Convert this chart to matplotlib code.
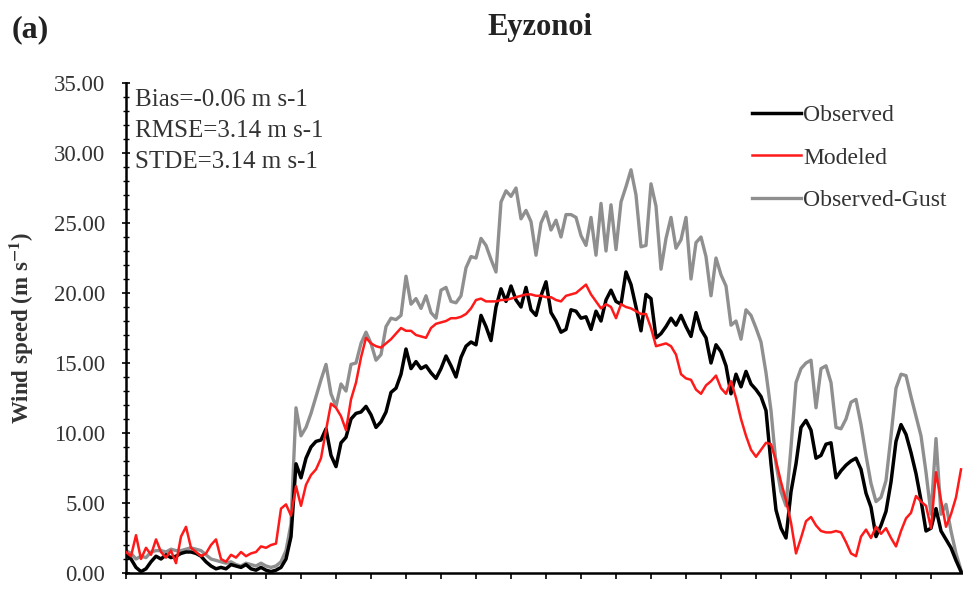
import numpy as np
import matplotlib
matplotlib.use("Agg")
import matplotlib.pyplot as plt
from matplotlib.ticker import MultipleLocator, FormatStrFormatter

plt.rcParams['font.family'] = ['Liberation Serif', 'DejaVu Serif']
plt.rcParams['mathtext.fontset'] = 'stix'

# ------------------------------------------------------------------
# Dados (um valor a cada passo de tempo)
# ------------------------------------------------------------------
titulo = "Eyzonoi"
rotulo_painel = "(a)"
estatisticas = ["Bias=-0.06 m s-1", "RMSE=3.14 m s-1", "STDE=3.14 m s-1"]
nomes_series = ["Observed", "Modeled", "Observed-Gust"]

observado = [
    1.3, 1.0, 0.4, 0.1, 0.3, 0.8, 1.2, 1.0, 1.3, 1.1,
    1.2, 1.4, 1.5, 1.5, 1.4, 1.2, 0.8, 0.5, 0.3, 0.4,
    0.3, 0.6, 0.5, 0.4, 0.6, 0.3, 0.2, 0.4, 0.2, 0.1,
    0.2, 0.4, 1.0, 2.6, 7.8, 6.8, 8.2, 9.0, 9.4, 9.5,
    10.3, 8.4, 7.6, 9.3, 9.7, 11.0, 11.4, 11.5, 11.9, 11.3,
    10.4, 10.8, 11.5, 12.9, 13.2, 14.2, 16.0, 14.6, 15.1, 14.6,
    14.8, 14.3, 13.9, 14.6, 15.5, 14.8, 14.0, 15.4, 16.2, 16.5,
    16.3, 18.4, 17.6, 16.6, 19.0, 20.3, 19.4, 20.5, 19.5, 19.0,
    20.4, 18.8, 18.4, 19.8, 20.8, 18.6, 18.0, 17.2, 17.4, 18.8,
    18.7, 18.2, 18.3, 17.4, 18.7, 18.0, 19.5, 20.2, 19.4, 19.2,
    21.5, 20.6, 19.0, 17.3, 19.9, 19.6, 16.8, 17.1, 17.6, 18.2,
    17.7, 18.4, 17.6, 16.9, 18.6, 17.4, 16.8, 15.0, 16.3, 15.8,
    14.8, 12.8, 14.2, 13.3, 14.4, 13.5, 13.1, 12.6, 11.6, 7.8,
    4.5, 3.2, 2.5, 5.8, 7.8, 10.4, 10.9, 10.2, 8.2, 8.4,
    9.2, 9.3, 6.8, 7.3, 7.7, 8.0, 8.2, 7.4, 5.7, 4.7,
    2.6, 3.4, 4.4, 6.5, 9.4, 10.6, 9.9, 8.6, 7.1, 5.2,
    3.0, 3.2, 4.6, 3.0, 2.4, 1.8, 0.9, 0.1,
]

modelado = [
    1.5, 1.2, 2.7, 1.0, 1.8, 1.3, 2.4, 1.5, 1.1, 1.6,
    0.7, 2.6, 3.3, 1.8, 1.5, 1.2, 1.4, 2.0, 2.4, 1.0,
    0.8, 1.3, 1.1, 1.5, 1.2, 1.4, 1.5, 1.9, 1.8, 2.0,
    2.1, 4.6, 4.9, 4.1, 6.2, 4.8, 6.3, 7.0, 7.4, 8.2,
    10.2, 12.1, 11.8, 11.2, 10.2, 12.4, 13.6, 15.4, 16.8, 16.4,
    16.2, 16.1, 16.4, 16.7, 17.1, 17.5, 17.3, 17.3, 17.0, 16.9,
    16.8, 17.5, 17.8, 17.9, 18.0, 18.2, 18.2, 18.3, 18.5, 18.9,
    19.5, 19.6, 19.4, 19.4, 19.4, 19.5, 19.5, 19.6, 19.7, 19.8,
    19.9, 19.9, 19.8, 19.8, 19.7, 19.7, 19.5, 19.4, 19.8, 19.9,
    20.0, 20.3, 20.6, 19.9, 19.4, 18.9, 19.2, 19.0, 18.2, 19.2,
    19.0, 18.9, 18.7, 18.5, 18.5, 17.5, 16.2, 16.3, 16.4, 16.2,
    15.6, 14.2, 13.9, 13.8, 13.1, 12.8, 13.4, 13.7, 14.1, 13.2,
    12.8, 13.7, 12.5, 11.0, 9.8, 8.8, 8.3, 8.8, 9.3, 9.2,
    8.0, 6.5, 5.2, 3.6, 1.4, 2.5, 3.7, 4.0, 3.4, 3.0,
    2.9, 2.9, 3.0, 2.9, 2.2, 1.4, 1.2, 2.6, 3.1, 2.5,
    3.3, 2.8, 3.2, 2.5, 1.9, 3.0, 3.9, 4.3, 5.5, 5.1,
    4.8, 3.2, 7.2, 5.2, 3.3, 4.2, 5.4, 7.4,
]

rajada = [
    1.6, 1.4, 1.0, 1.2, 1.1, 1.5, 1.6, 1.6, 1.5, 1.7,
    1.6, 1.6, 1.7, 1.8, 1.7, 1.6, 1.3, 1.0, 0.9, 0.8,
    0.7, 0.8, 0.6, 0.5, 0.7, 0.6, 0.5, 0.7, 0.5, 0.4,
    0.5, 0.8, 1.6, 3.5, 11.8, 9.8, 10.4, 11.4, 12.6, 13.8,
    14.9, 12.8, 11.9, 13.5, 13.0, 14.9, 15.0, 16.4, 17.2, 16.4,
    15.2, 15.6, 17.6, 18.2, 18.1, 18.4, 21.2, 19.2, 19.6, 18.9,
    19.8, 18.6, 18.2, 20.2, 20.4, 19.4, 19.3, 19.8, 21.8, 22.6,
    22.5, 23.9, 23.4, 22.4, 21.5, 26.5, 27.3, 26.9, 27.5, 25.3,
    25.9, 25.1, 22.7, 25.0, 25.8, 24.5, 25.2, 24.0, 25.6, 25.6,
    25.4, 24.1, 23.4, 25.4, 22.7, 26.4, 23.0, 26.3, 23.1, 26.5,
    27.6, 28.8, 27.0, 23.3, 23.4, 27.8, 26.2, 21.7, 23.9, 25.4,
    23.2, 23.8, 25.4, 21.0, 23.6, 24.0, 22.6, 19.8, 22.5, 21.3,
    20.5, 17.7, 18.0, 16.7, 18.8, 18.4, 17.5, 16.5, 14.3, 11.6,
    7.8, 5.8, 4.8, 9.0, 13.6, 14.6, 15.0, 15.2, 11.8, 14.6,
    14.8, 13.6, 10.4, 10.3, 11.0, 12.2, 12.4, 10.6, 8.4, 6.4,
    5.1, 5.4, 6.6, 9.8, 13.2, 14.2, 14.1, 12.6, 11.2, 9.8,
    7.2, 4.2, 9.6, 4.2, 4.9, 3.0, 1.4, 0.2,
]

passos = np.arange(len(observado))

# ------------------------------------------------------------------
# Figura
# ------------------------------------------------------------------
fig = plt.figure(figsize=(9.63, 5.89), dpi=100)
ax = fig.add_axes([126 / 963, 16 / 589, 840 / 963, 490 / 589])

l_raj, = ax.plot(passos, rajada, color='#8f8f8f', lw=2.4, zorder=1)
l_obs, = ax.plot(passos, observado, color='black', lw=2.5, zorder=2)
l_mod, = ax.plot(passos, modelado, color='#ff1a1a', lw=1.8, zorder=3)

ax.set_xlim(0, 168)
ax.set_ylim(0, 35)
ax.spines['top'].set_visible(False)
ax.spines['right'].set_visible(False)
ax.spines['left'].set_linewidth(1.8)
ax.spines['bottom'].set_linewidth(1.8)

ax.xaxis.set_major_locator(MultipleLocator(7))
ax.tick_params(axis='x', direction='out', length=4, width=1.2, labelbottom=False)
ax.yaxis.set_major_locator(MultipleLocator(5))
ax.yaxis.set_minor_locator(MultipleLocator(1))
ax.yaxis.set_major_formatter(FormatStrFormatter('%.2f'))
ax.tick_params(axis='y', which='major', direction='inout', length=6, width=1.2,
               labelsize=16.5, pad=12, colors='black')
ax.tick_params(axis='y', which='minor', direction='inout', length=4, width=1.0)
for t in ax.get_yticklabels():
    t.set_color('#333333')

ax.set_ylabel(r'Wind speed (m s$^{\mathbf{-1}}$)', fontsize=16.5, fontweight='bold',
              color='#333333')
ax.yaxis.set_label_coords(-0.107, 0.5)

fig.text(540 / 963, 1 - 27 / 589, titulo, fontsize=22, fontweight='bold',
         ha='center', va='center', color='#222222')
fig.text(12 / 963, 1 - 30 / 589, rotulo_painel, fontsize=23, fontweight='bold',
         ha='left', va='center', color='#222222')

for k, linha in enumerate(estatisticas):
    fig.text(135 / 963, 1 - (100 + 31 * k) / 589, linha, fontsize=18,
             ha='left', va='center', color='#333333')

# legenda na ordem da figura original
leg = ax.legend([l_obs, l_mod, l_raj], nomes_series,
                loc='upper left', bbox_to_anchor=(0.7345, 0.975), frameon=False,
                fontsize=17, handlelength=2.05, handletextpad=0.1,
                labelspacing=0.88, borderaxespad=0)
for t in leg.get_texts():
    t.set_color('#333333')

fig.savefig('out.png', dpi=100)
